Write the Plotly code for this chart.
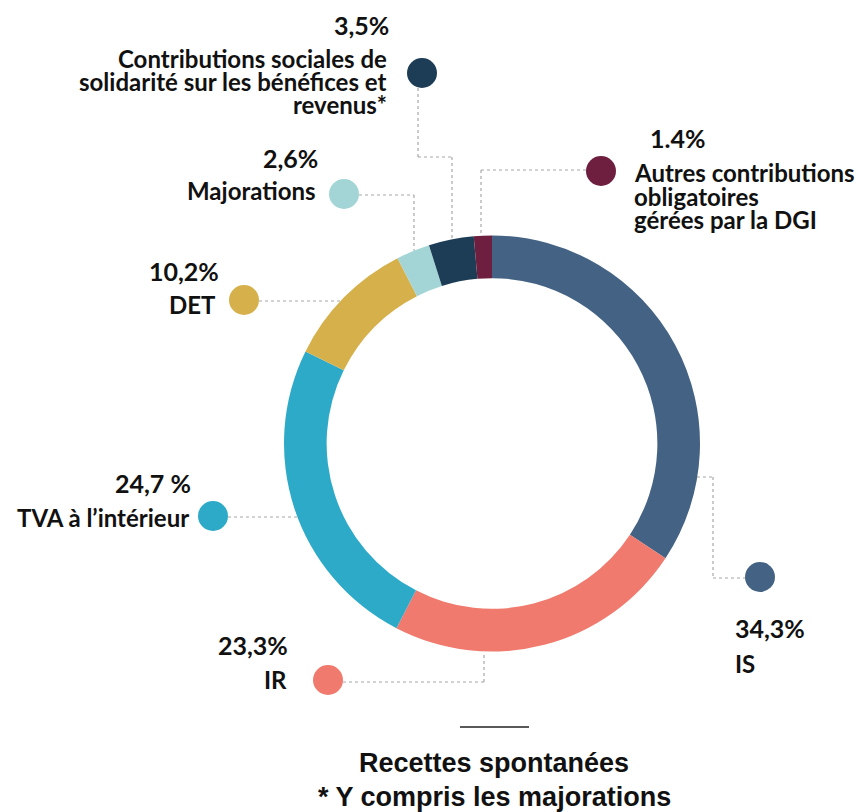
import math
import plotly.graph_objects as go

# Répartition des recettes spontanées (en %)
categories = ["IS", "IR", "TVA à l’intérieur", "DET", "Majorations",
              "Contributions sociales de solidarité sur les bénéfices et revenus*",
              "Autres contributions obligatoires gérées par la DGI"]
values = [34.3, 23.3, 24.7, 10.2, 2.6, 3.5, 1.4]
pct_labels = ["34,3%", "23,3%", "24,7 %", "10,2%", "2,6%", "3,5%", "1.4%"]
label_lines = [
    ["IS"],
    ["IR"],
    ["TVA à l’intérieur"],
    ["DET"],
    ["Majorations"],
    ["Contributions sociales de", "solidarité sur les bénéfices et", "revenus*"],
    ["Autres contributions", "obligatoires", "gérées par la DGI"],
]
colors = ["#446384", "#EF7A6D", "#2EAAC9", "#D6B04A", "#A3D5D6", "#1D3C55", "#6E1F3F"]

W, H = 858, 812
CX, CY, R = 492, 443.5, 208
HOLE = 0.795

LABEL_FONT = dict(family="Lato, 'Open Sans', sans-serif", size=24, color="#111111", weight=700)
PCT_FONT = dict(family="Lato, 'Open Sans', sans-serif", size=25, color="#111111", weight=700)
TITLE_FONT = dict(family="'Liberation Sans', Arial, sans-serif", size=27, color="#111111", weight=700)


def ring_y(x):
    # top edge of the outer ring at a given x (pixels)
    return CY - math.sqrt(R ** 2 - (x - CX) ** 2)


# placement of the callouts, in pixels (dot, percentage, label lines, connector)
callouts = [
    dict(dot=(760, 577), anchor="left", pct=(733, 628), lab=(733, [663]),
         path=[(697, 477), (713, 477), (713, 578), (745, 578)]),
    dict(dot=(328, 680), anchor="right", pct=(290, 645), lab=(289, [679]),
         path=[(343, 682), (484, 682), (484, 652)]),
    dict(dot=(213, 516), anchor="right", pct=(193, 483), lab=(191, [517]),
         path=[(228, 517), (298, 517)]),
    dict(dot=(244, 300), anchor="right", pct=(221, 271), lab=(218, [304]),
         path=[(259, 301), (340, 301)]),
    dict(dot=(344, 194), anchor="right", pct=(320, 158), lab=(318, [190]),
         path=[(359, 195), (414, 195), (414, ring_y(414))]),
    dict(dot=(422, 73), anchor="right", pct=(391, 25), lab=(389, [58, 81, 104]),
         path=[(418, 88), (418, 157), (452, 157), (452, ring_y(452))]),
    dict(dot=(601, 171), anchor="left", pct=(648, 138), lab=(632, [172, 196, 219]),
         path=[(586, 170), (481, 170), (481, ring_y(481))]),
]

fig = go.Figure()

# connectors first so the ring sits on top
shapes = []
for c in callouts:
    pts = c["path"]
    for (x0, y0), (x1, y1) in zip(pts[:-1], pts[1:]):
        shapes.append(dict(type="line", xref="x", yref="y", x0=x0, y0=y0, x1=x1, y1=y1,
                           line=dict(color="#a8a8a8", width=1.2, dash="dot"), layer="below"))

fig.add_trace(go.Pie(
    labels=categories, values=values, sort=False, direction="clockwise", rotation=0,
    hole=HOLE, marker=dict(colors=colors, line=dict(width=0)),
    textinfo="none", hoverinfo="label+percent", showlegend=False,
    domain=dict(x=[(CX - R) / W, (CX + R) / W], y=[1 - (CY + R) / H, 1 - (CY - R) / H]),
))

fig.add_trace(go.Scatter(
    x=[c["dot"][0] for c in callouts], y=[c["dot"][1] for c in callouts],
    mode="markers", marker=dict(size=30, color=colors, line=dict(width=0)),
    hovertext=categories, hoverinfo="text", showlegend=False,
))

annotations = []
for c, pct, lines in zip(callouts, pct_labels, label_lines):
    annotations.append(dict(x=c["pct"][0], y=c["pct"][1], xref="x", yref="y", text=pct,
                            showarrow=False, xanchor=c["anchor"], yanchor="middle", font=PCT_FONT))
    lx, ys = c["lab"]
    for txt, ly in zip(lines, ys):
        annotations.append(dict(x=lx, y=ly, xref="x", yref="y", text=txt, showarrow=False,
                                xanchor=c["anchor"], yanchor="middle", font=LABEL_FONT))

annotations.append(dict(x=494, y=763, xref="x", yref="y", text="Recettes spontanées",
                        showarrow=False, xanchor="center", yanchor="middle", font=TITLE_FONT))
annotations.append(dict(x=494, y=797, xref="x", yref="y", text="* Y compris les majorations",
                        showarrow=False, xanchor="center", yanchor="middle", font=TITLE_FONT))
shapes.append(dict(type="line", xref="x", yref="y", x0=460, y0=727, x1=529, y1=727,
                   line=dict(color="#222222", width=1.5)))

fig.update_layout(
    width=W, height=H, margin=dict(l=0, r=0, t=0, b=0),
    paper_bgcolor="white", plot_bgcolor="rgba(0,0,0,0)",
    xaxis=dict(range=[0, W], visible=False, fixedrange=True),
    yaxis=dict(range=[H, 0], visible=False, fixedrange=True),
    shapes=shapes, annotations=annotations,
)

# the page body has a default 8px margin; drop it so the chart fills the window
fig.write_html("out.html", config={"displayModeBar": False},
               post_script="document.body.style.margin='0';")
